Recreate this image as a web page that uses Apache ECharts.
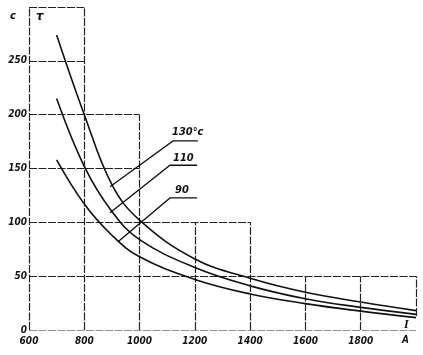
<!DOCTYPE html>
<html>
<head>
<meta charset="utf-8">
<script src="https://cdn.jsdelivr.net/npm/echarts@6/dist/echarts.min.js"></script>
<style>html,body{margin:0;padding:0;background:#fff;}#c{width:423px;height:355px;}</style>
</head>
<body>
<div id="c"></div>
<script>
// Current I (A)
const currents = [700, 800, 900, 1000, 1200, 1400, 1600, 1800, 2000];
// Time tau (s) for each temperature
const t130 = [274, 200, 135, 102, 66, 48, 35, 26, 18];
const t110 = [215, 152, 110, 84, 58, 41, 29, 21, 14.5];
const t90  = [158, 117, 88, 68, 47, 33.5, 24.5, 17.5, 11.5];
const curveNames = ['130°c', '110', '90'];
// x tick labels and y tick labels
const xTicks = [600, 800, 1000, 1200, 1400, 1600, 1800];
const yTicks = [0, 50, 100, 150, 200, 250];
// stepped grid outline segments [x1,y1,x2,y2]
const gridSegs = [
  [600,300,800,300],[600,250,800,250],[600,200,1000,200],[600,150,1000,150],
  [600,100,1400,100],[600,50,2000,50],[600,0,2000,0],
  [600,0,600,300],[800,0,800,300],[1000,0,1000,200],[1200,0,1200,100],
  [1400,0,1400,100],[1600,0,1600,50],[1800,0,1800,50],[2000,13,2000,50]
];
// leader lines: label underline start/end then point on curve
const leaders = [
  [[1211,175.6],[1121,175.6],[893,133]],
  [[1208,153],[1110,153],[893,109]],
  [[1208,122.7],[1110,122.7],[922,82]]
];

const font = {fontFamily:'DejaVu Sans Condensed, DejaVu Sans', fontStyle:'italic', fontWeight:'bold', color:'#111'};
const chart = echarts.init(document.getElementById('c'));
const mk = arr => currents.map((x,i)=>[x, arr[i]]);
const curveStyle = {color:'#111', width:1.6};
chart.setOption({
  animation:false,
  grid:{left:29, right:7, top:7, bottom:25},
  xAxis:{type:'value', min:600, max:2000, interval:200,
    axisLine:{show:false}, axisTick:{show:false}, splitLine:{show:false},
    axisLabel:Object.assign({fontSize:10, margin:6,
      formatter:v=> xTicks.indexOf(v)>=0 ? String(v) : ''}, font)},
  yAxis:{type:'value', min:0, max:300, interval:50,
    axisLine:{show:false}, axisTick:{show:false}, splitLine:{show:false},
    axisLabel:Object.assign({fontSize:10, margin:2,
      formatter:v=> yTicks.indexOf(v)>=0 ? String(v) : ''}, font)},
  series:[
    {type:'lines', coordinateSystem:'cartesian2d', silent:true,
     lineStyle:{color:'#222', width:1.2, opacity:1, type:[8,1.5]},
     data:gridSegs.map(s=>({coords:[[s[0],s[1]],[s[2],s[3]]]}))},
    {type:'lines', coordinateSystem:'cartesian2d', polyline:true, silent:true,
     lineStyle:{color:'#111', width:1.3, opacity:1},
     data:leaders.map(l=>({coords:l}))},
    {name:curveNames[0], type:'line', smooth:0.4, showSymbol:false, lineStyle:curveStyle, data:mk(t130)},
    {name:curveNames[1], type:'line', smooth:0.4, showSymbol:false, lineStyle:curveStyle, data:mk(t110)},
    {name:curveNames[2], type:'line', smooth:0.4, showSymbol:false, lineStyle:curveStyle, data:mk(t90)}
  ],
  graphic:[
    {type:'text', left:10, top:11, style:Object.assign({text:'c', fontSize:11}, font, {fill:'#111'})},
    {type:'text', left:36, top:10, style:Object.assign({text:'τ', fontSize:13}, font, {fill:'#111'})},
    {type:'text', left:172, top:127, style:Object.assign({text:curveNames[0], fontSize:11}, font, {fill:'#111'})},
    {type:'text', left:173, top:153, style:Object.assign({text:curveNames[1], fontSize:11}, font, {fill:'#111'})},
    {type:'text', left:175, top:185, style:Object.assign({text:curveNames[2], fontSize:11}, font, {fill:'#111'})},
    {type:'text', left:404, top:319, style:Object.assign({text:'I', fontSize:12}, font, {fill:'#111', fontFamily:'Liberation Serif'})},
    {type:'text', left:402, top:335, style:Object.assign({text:'A', fontSize:10}, font, {fill:'#111'})}
  ]
});
</script>
</body>
</html>
